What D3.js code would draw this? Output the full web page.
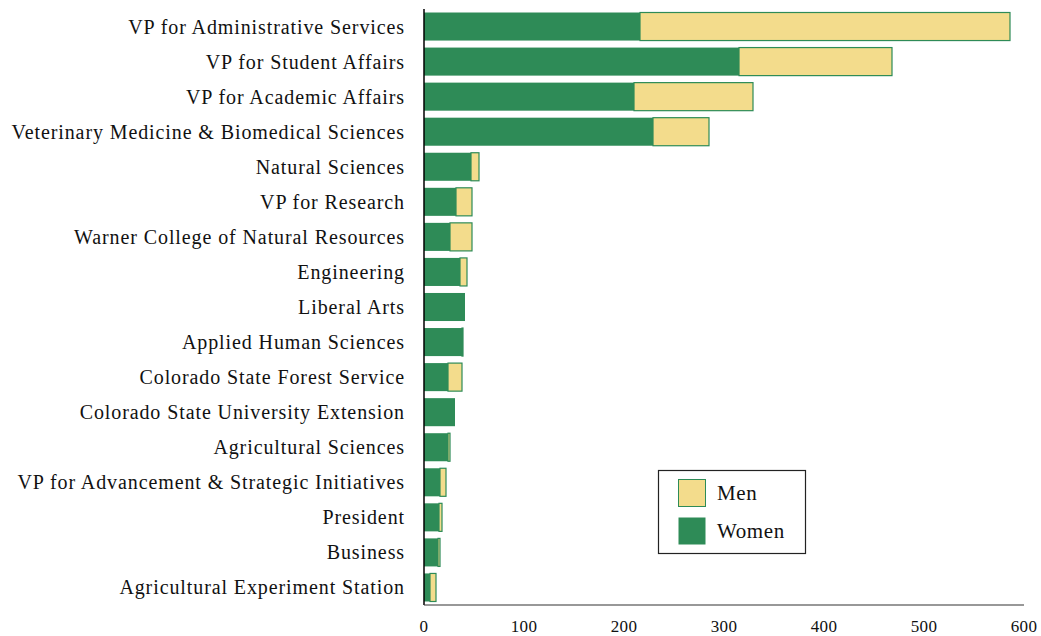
<!DOCTYPE html>
<html><head><meta charset="utf-8">
<script src="https://cdn.jsdelivr.net/npm/d3@7"></script>
<style>body{margin:0;background:#fff}svg{display:block}</style>
</head><body>
<svg id="c" width="1041" height="636"></svg>
<script>
const categories = [
  "VP for Administrative Services",
  "VP for Student Affairs",
  "VP for Academic Affairs",
  "Veterinary Medicine & Biomedical Sciences",
  "Natural Sciences",
  "VP for Research",
  "Warner College of Natural Resources",
  "Engineering",
  "Liberal Arts",
  "Applied Human Sciences",
  "Colorado State Forest Service",
  "Colorado State University Extension",
  "Agricultural Sciences",
  "VP for Advancement & Strategic Initiatives",
  "President",
  "Business",
  "Agricultural Experiment Station"
];
const women = [216, 315, 210, 229, 47, 32, 26, 36, 41, 38, 24, 31, 24, 16, 15, 14, 6];
const men   = [370, 153, 119, 56, 8, 16, 22, 7, 0, 1, 14, 0, 2, 6, 3, 2, 6];
const xTicks = [0, 100, 200, 300, 400, 500, 600];
const seriesNames = ["Men", "Women"];

const GREEN = "#2e8b57", YELLOW = "#f3dc8c";
const svg = d3.select("#c");
const font = "'Liberation Serif', 'DejaVu Serif', serif";
const x = d3.scaleLinear().domain([0, 600]).range([424, 1024]);
const y = d3.scaleBand().domain(categories).range([9, 605]).paddingInner(0.2).paddingOuter(0.1);

const rows = categories.map((c, i) => ({c, w: women[i], m: men[i]}));
const g = svg.append("g");
g.selectAll("rect.men").data(rows.filter(d => d.m > 0)).join("rect")
  .attr("x", d => x(d.w)).attr("y", d => y(d.c))
  .attr("width", d => x(d.w + d.m) - x(d.w)).attr("height", y.bandwidth())
  .attr("fill", YELLOW).attr("stroke", GREEN).attr("stroke-width", 1.2);
g.selectAll("rect.women").data(rows).join("rect")
  .attr("x", x(0)).attr("y", d => y(d.c))
  .attr("width", d => x(d.w) - x(0)).attr("height", y.bandwidth())
  .attr("fill", GREEN);

svg.append("line").attr("x1", x(0)).attr("x2", x(0)).attr("y1", 9).attr("y2", 605)
  .attr("stroke", "#000").attr("stroke-width", 1.5);
svg.append("line").attr("x1", x(0)).attr("x2", x(600)).attr("y1", 605).attr("y2", 605)
  .attr("stroke", "#333").attr("stroke-width", 1.2);

svg.selectAll("text.cat").data(categories).join("text")
  .attr("x", 405).attr("y", d => y(d) + y.bandwidth() / 2)
  .attr("dy", "0.35em").attr("text-anchor", "end")
  .style("font-family", font).style("font-size", "20px").style("letter-spacing", "0.9px")
  .attr("fill", "#111")
  .text(d => d);

svg.selectAll("text.tick").data(xTicks).join("text")
  .attr("x", d => x(d)).attr("y", 632).attr("text-anchor", "middle")
  .style("font-family", font).style("font-size", "17px").style("letter-spacing", "0.4px")
  .attr("fill", "#111")
  .text(d => d);

const lg = svg.append("g");
lg.append("rect").attr("x", 658.5).attr("y", 470.5).attr("width", 147).attr("height", 83)
  .attr("fill", "#fff").attr("stroke", "#222").attr("stroke-width", 1.2);
const lcol = [YELLOW, GREEN];
seriesNames.forEach((n, i) => {
  lg.append("rect").attr("x", 678.5).attr("y", 479.5 + i * 38).attr("width", 27).attr("height", 27)
    .attr("fill", lcol[i]).attr("stroke", i === 0 ? GREEN : "none").attr("stroke-width", 1);
  lg.append("text").attr("x", 717).attr("y", 493 + i * 38).attr("dy", "0.35em")
    .style("font-family", font).style("font-size", "21px").style("letter-spacing", "0.6px")
    .attr("fill", "#111").text(n);
});
</script>
</body></html>
